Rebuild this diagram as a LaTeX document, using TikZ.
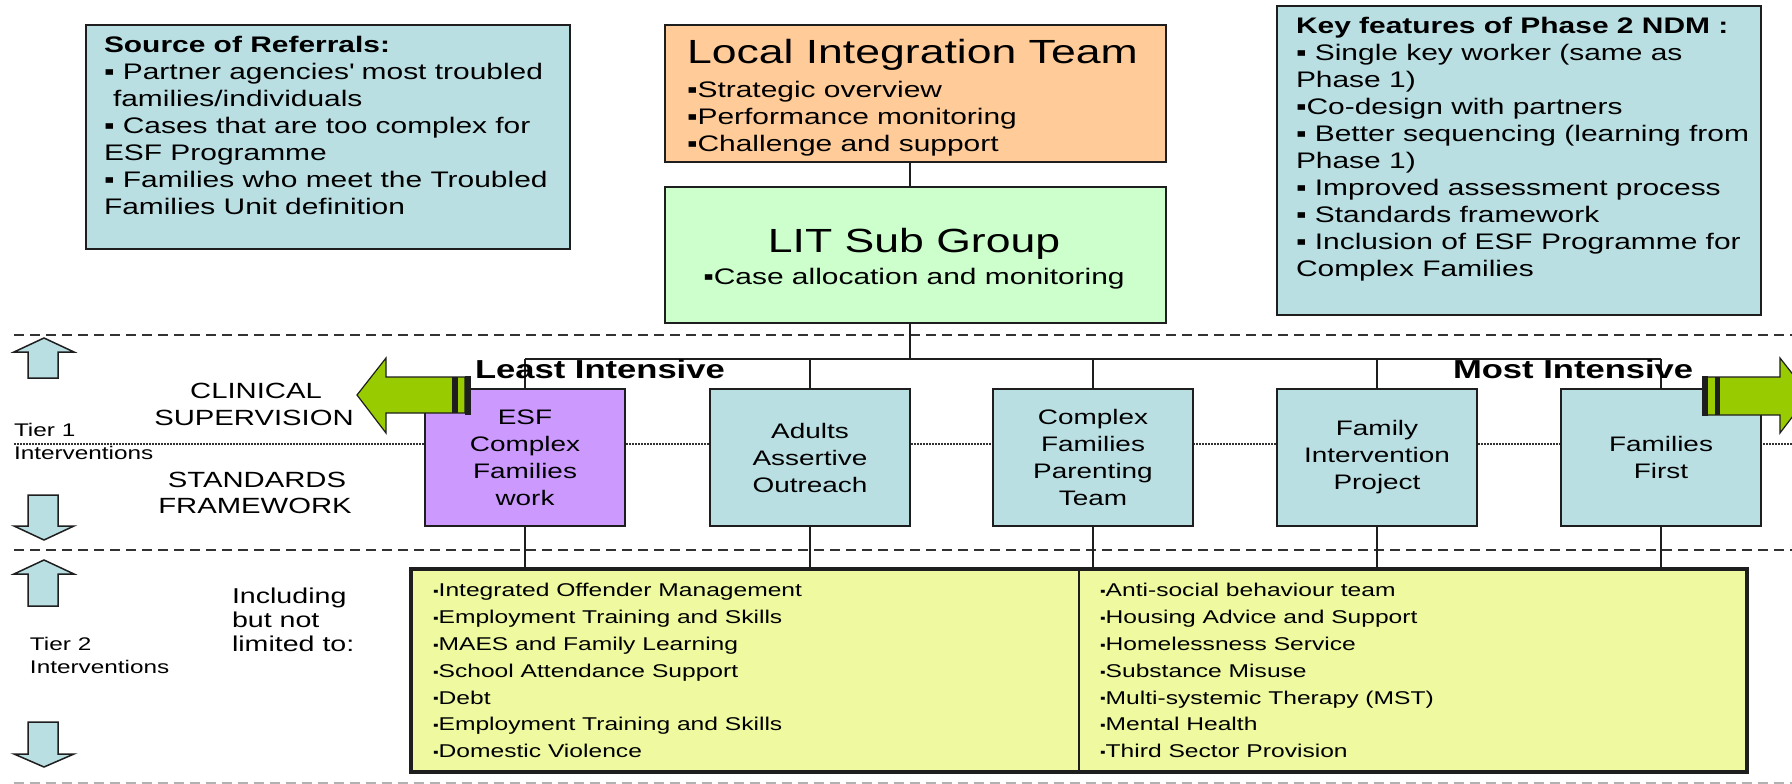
\documentclass[tikz,border=0pt]{standalone}
\usepackage{fontspec}
\setmainfont{Liberation Sans}[FakeStretch=1.33]
\definecolor{tierblue}{RGB}{186,223,227}
\definecolor{litorange}{RGB}{255,204,153}
\definecolor{subgreen}{RGB}{204,255,204}
\definecolor{esfpurple}{RGB}{204,153,255}
\definecolor{tiertwoyellow}{RGB}{238,249,160}
\definecolor{arrowgreen}{RGB}{153,204,0}
\definecolor{boxline}{RGB}{30,30,30}
\definecolor{sepline}{RGB}{50,50,50}
\newcommand\txtsize[2]{\fontsize{#1pt}{#2pt}\selectfont}
\newcommand\smallsq{\raisebox{1.3pt}{\fontsize{12pt}{12pt}\selectfont ▪}}
\begin{document}
\begin{tikzpicture}[x=1pt,y=-1pt,
  box/.style={draw=boxline, line width=2pt, inner sep=0pt, rectangle},
  tierbox/.style={box, fill=tierblue, minimum width=200pt, minimum height=137pt,
    align=center, font=\txtsize{21}{27}},
  txt/.style={inner sep=0pt, outer sep=0pt},
  conn/.style={draw=boxline, line width=2pt},
  dashsep/.style={draw=sepline, line width=2pt, dash pattern=on 10pt off 6pt},
  dotsep/.style={draw=sepline, line width=1.5pt, dash pattern=on 1.5pt off 1.5pt},
  bluearrow/.style={fill=tierblue, draw=boxline, line width=1.5pt, line join=miter},
  greenarrow/.style={fill=arrowgreen, draw=boxline, line width=1.2pt}]

\useasboundingbox (0,0) rectangle (1792,784);
\fill[white] (0,0) rectangle (1792,784);
\clip (0,0) rectangle (1792,784);

% --- separators between the tiers ---
\draw[dashsep] (14,335) -- (1792,335);
\draw[dashsep] (14,550) -- (1792,550);
\draw[dashsep, draw=gray!60] (14,783) -- (1792,783);
\draw[dotsep] (14,444) -- (1792,444);

% --- top row ---
\node[box, fill=tierblue, minimum width=484pt, minimum height=224pt] (source) at (328,137) {};
\node[txt, anchor=north west, align=left, font=\txtsize{22.5}{27}] (sourcetext) at (104,33.1)
  {\strut\textbf{Source of Referrals:}\\
   ▪ Partner agencies\textquotesingle\ most troubled\\
   \hspace*{9pt}families/individuals\\
   ▪ Cases that are too complex for\\
   ESF Programme\\
   ▪ Families who meet the Troubled\\
   Families Unit definition};

\node[box, fill=litorange, minimum width=501pt, minimum height=137pt] (lit) at (915.5,93.5) {};
\node[txt, anchor=base west, font=\txtsize{33.5}{40}] (littitle) at (687,64) {Local Integration Team};
\node[txt, anchor=north west, align=left, font=\txtsize{22.5}{27}] (littext) at (687,78.1)
  {\strut▪Strategic overview\\
   ▪Performance monitoring\\
   ▪Challenge and support};

\node[box, fill=subgreen, minimum width=501pt, minimum height=136pt] (sub) at (915.5,255) {};
\node[txt, anchor=base, font=\txtsize{33.5}{40}] (subtitle) at (914,252) {LIT Sub Group};
\node[txt, anchor=base, font=\txtsize{22.5}{27}] (subtext) at (914,284) {▪Case allocation and monitoring};

\node[box, fill=tierblue, minimum width=484pt, minimum height=309pt] (key) at (1519,160.5) {};
\node[txt, anchor=north west, align=left, font=\txtsize{22.5}{27}] (keytext) at (1296,14.1)
  {\strut\textbf{Key features of Phase 2 NDM :}\\
   ▪ Single key worker (same as\\
   Phase 1)\\
   ▪Co-design with partners\\
   ▪ Better sequencing (learning from\\
   Phase 1)\\
   ▪ Improved assessment process\\
   ▪ Standards framework\\
   ▪ Inclusion of ESF Programme for\\
   Complex Families};

% --- tier 1 services ---
\node[tierbox, fill=esfpurple] (t1) at (525,457.5) {ESF\\Complex\\Families\\work};
\node[tierbox] (t2) at (810,457.5) {Adults\\Assertive\\Outreach};
\node[tierbox] (t3) at (1093,457.5) {Complex\\Families\\Parenting\\Team};
\node[tierbox] (t4) at (1377,457.5) {Family\\Intervention\\Project};
\node[tierbox] (t5) at (1661,457.5) {Families\\First};

% --- tier 2 services ---
\node[box, fill=tiertwoyellow, line width=4.5pt, minimum width=1336pt, minimum height=203pt] (tiertwo) at (1079,670.5) {};
\draw[conn] (tiertwo.north) -- (tiertwo.south);
\node[txt, anchor=north west, align=left, font=\txtsize{18.5}{26.8}] (tiertwoleft) at (433,578.2)
  {\strut\smallsq Integrated Offender Management\\
   \smallsq Employment Training and Skills\\
   \smallsq MAES and Family Learning\\
   \smallsq School Attendance Support\\
   \smallsq Debt\\
   \smallsq Employment Training and Skills\\
   \smallsq Domestic Violence};
\node[txt, anchor=north west, align=left, font=\txtsize{18.5}{26.8}] (tiertworight) at (1100,578.2)
  {\strut\smallsq Anti-social behaviour team\\
   \smallsq Housing Advice and Support\\
   \smallsq Homelessness Service\\
   \smallsq Substance Misuse\\
   \smallsq Multi-systemic Therapy (MST)\\
   \smallsq Mental Health\\
   \smallsq Third Sector Provision};

% --- connectors ---
\coordinate (bus) at (910,359);
\draw[conn] ([xshift=-5.5pt]lit.south) -- ([xshift=-5.5pt]sub.north);
\draw[conn] ([xshift=-5.5pt]sub.south) -- (bus);
\draw[conn] (t1.north |- bus) -- (t5.north |- bus);
\foreach \i in {1,...,5}{
  \draw[conn] (t\i.north |- bus) -- (t\i.north);
  \draw[conn] (t\i.south) -- (t\i.south |- tiertwo.north);
}

% --- intensity labels ---
\node[txt, anchor=base west, font=\txtsize{26}{30}\bfseries] (least) at (475,378) {Least Intensive};
\node[txt, anchor=base west, font=\txtsize{26}{30}\bfseries] (most) at (1453,378) {Most Intensive};

% --- green direction arrows ---
\draw[greenarrow] (357,395) -- (386,358) -- (386,377) -- (465,377) -- (465,413) -- (386,413) -- (386,433) -- cycle;
\fill[boxline] (452,377) rectangle (458,413);
\fill[boxline] (465,375.5) rectangle (471,414.5);
\draw[greenarrow] (1809,395) -- (1780,358) -- (1780,377) -- (1705,377) -- (1705,415) -- (1780,415) -- (1780,433) -- cycle;
\fill[boxline] (1702,376) rectangle (1708,416);
\fill[boxline] (1715,377) rectangle (1720,415);

% --- left-hand labels ---
\node[txt, anchor=base, font=\txtsize{22}{27}] (clin) at (256,398) {CLINICAL};
\node[txt, anchor=base, font=\txtsize{22}{27}] (superv) at (254,425) {SUPERVISION};
\node[txt, anchor=base, font=\txtsize{22}{27}] (stand) at (257,487) {STANDARDS};
\node[txt, anchor=base, font=\txtsize{22}{27}] (frame) at (255,513) {FRAMEWORK};
\node[txt, anchor=base west, font=\txtsize{18.3}{23}] (tieronea) at (14,436) {Tier 1};
\node[txt, anchor=base west, font=\txtsize{18.3}{23}] (tieroneb) at (14,459) {Interventions};
\node[txt, anchor=base west, font=\txtsize{18.3}{23}] (tiertwoa) at (30,650) {Tier 2};
\node[txt, anchor=base west, font=\txtsize{18.3}{23}] (tiertwob) at (30,673) {Interventions};
\node[txt, anchor=north west, align=left, font=\txtsize{21.5}{24}] (including) at (232,586.2)
  {\strut Including\\but not\\limited to:};

% --- blue tier arrows ---
\draw[bluearrow] (44,338) -- (74,352) -- (58,352) -- (58,378) -- (28,378) -- (28,352) -- (14,352) -- cycle;
\draw[bluearrow] (28,495) -- (58,495) -- (58,526) -- (74,526) -- (44,540) -- (14,526) -- (28,526) -- cycle;
\draw[bluearrow] (44,560) -- (74,574) -- (58,574) -- (58,606) -- (28,606) -- (28,574) -- (14,574) -- cycle;
\draw[bluearrow] (28,722) -- (58,722) -- (58,754) -- (74,754) -- (44,767) -- (14,754) -- (28,754) -- cycle;
\end{tikzpicture}
\end{document}
